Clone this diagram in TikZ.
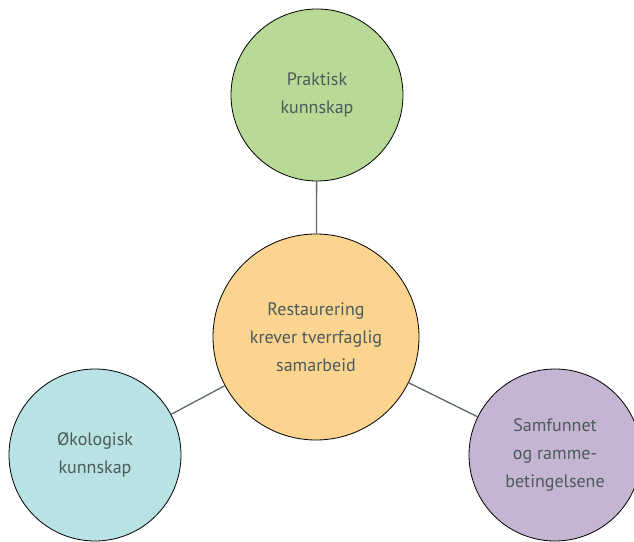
\documentclass[tikz,border=0pt]{standalone}
\usepackage{fontspec}
\setmainfont{PT Sans}
\definecolor{leaf}{HTML}{B9D997}
\definecolor{apricot}{HTML}{FBD490}
\definecolor{lagoon}{HTML}{B9E2E4}
\definecolor{heather}{HTML}{C5B5D2}
\definecolor{slate}{HTML}{4B5B5A}
\definecolor{wire}{HTML}{5E6868}
\tikzstyle{theme}=[draw,circle,line width=0.8pt,text=slate,align=center,
                   inner sep=0pt,minimum width=172pt,
                   font=\fontsize{18}{28}\selectfont]
\tikzstyle{core}=[theme,fill=apricot,minimum width=206pt]
\tikzstyle{link}=[color=wire,line width=1.3pt]

\begin{document}
\begin{tikzpicture}[x=1pt,y=1pt]
  \useasboundingbox (0,0) rectangle (634,541);
  % Centre circle
  \node[core] (rest) at (316,204) {Restaurering\\krever tverrfaglig\\samarbeid};

  % Outer circles
  \node[theme,fill=leaf] (prak) at (317,446) {Praktisk\\kunnskap};
  \node[theme,fill=lagoon] (okol) at (95,86) {Økologisk\\kunnskap};
  \node[theme,fill=heather] (samf) at (555,86) {Samfunnet\\og ramme-\\betingelsene};

  \path[link] (rest) edge (prak);
  \path[link] (rest) edge (okol);
  \path[link] (rest) edge (samf);
\end{tikzpicture}
\end{document}
